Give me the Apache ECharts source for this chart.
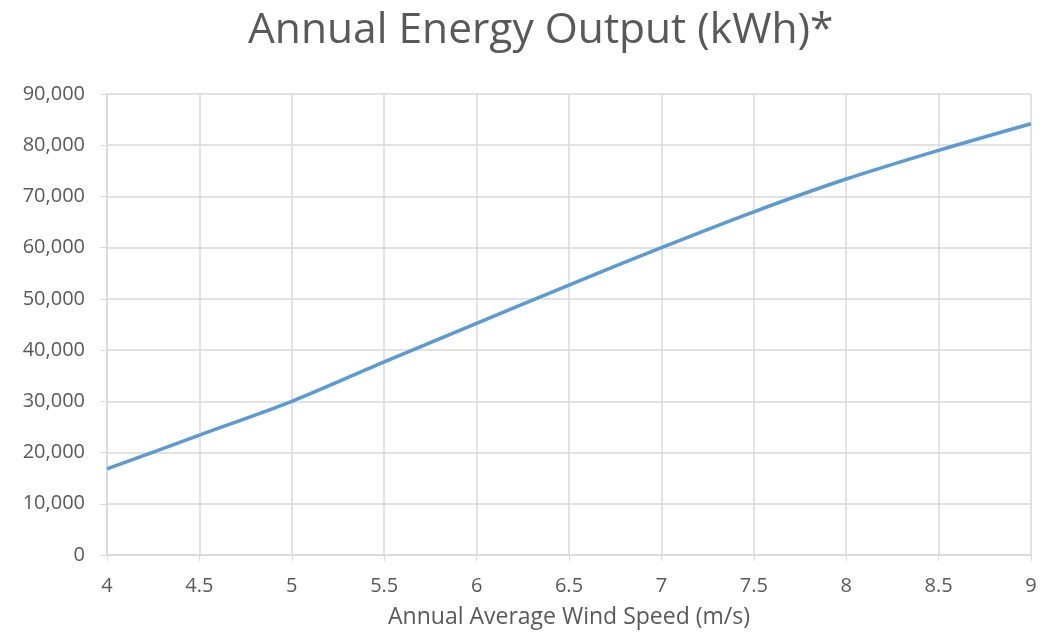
<!DOCTYPE html>
<html><head><meta charset="utf-8">
<script src="https://cdn.jsdelivr.net/npm/echarts@6/dist/echarts.min.js"></script>
<style>html,body{margin:0;padding:0;background:#fff}#c{width:1050px;height:634px}</style>
</head><body><div id="c"></div>
<script>
const windSpeed = [4, 4.5, 5, 5.5, 6, 6.5, 7, 7.5, 8, 8.5, 9];
const energyKWh = [16800, 23400, 30000, 37700, 45200, 52700, 60000, 67000, 73400, 79000, 84200];
const titleText = 'Annual Energy Output (kWh)*';
const xAxisName = 'Annual Average Wind Speed (m/s)';

const chart = echarts.init(document.getElementById('c'));
const font = 'Open Sans';
chart.setOption({
  animation: false,
  title: { text: titleText, left: 243, top: 4,
    textStyle: { fontFamily: font, fontSize: 42.5, fontWeight: 'normal', color: '#595959' } },
  grid: { left: 107, right: 19, top: 94, bottom: 77 },
  xAxis: {
    type: 'value', min: 4, max: 9, interval: 0.5,
    name: xAxisName, nameLocation: 'middle', nameGap: 51,
    nameTextStyle: { fontFamily: font, fontSize: 23, color: '#595959' },
    axisLine: { show: true, lineStyle: { color: '#d9d9d9', width: 1.5 } },
    axisTick: { show: true, inside: false, length: 6, lineStyle: { color: '#d9d9d9' } },
    axisLabel: { fontFamily: font, fontSize: 20, color: '#595959', margin: 21 },
    splitLine: { show: true, lineStyle: { color: '#d9d9d9', width: 1.5 } }
  },
  yAxis: {
    type: 'value', min: 0, max: 90000, interval: 10000,
    axisLine: { show: true, lineStyle: { color: '#d9d9d9', width: 1.5 } },
    axisTick: { show: true, inside: false, length: 7, lineStyle: { color: '#d9d9d9' } },
    axisLabel: { fontFamily: font, fontSize: 20, color: '#595959', margin: 22,
      formatter: v => v.toLocaleString('en-US') },
    splitLine: { show: true, lineStyle: { color: '#d9d9d9', width: 1.5 } }
  },
  series: [{
    type: 'line', smooth: 0.3, showSymbol: false,
    data: windSpeed.map((x, i) => [x, energyKWh[i]]),
    lineStyle: { color: '#5b9bd5', width: 3.5 },
    itemStyle: { color: '#5b9bd5' }
  }]
});
</script></body></html>
